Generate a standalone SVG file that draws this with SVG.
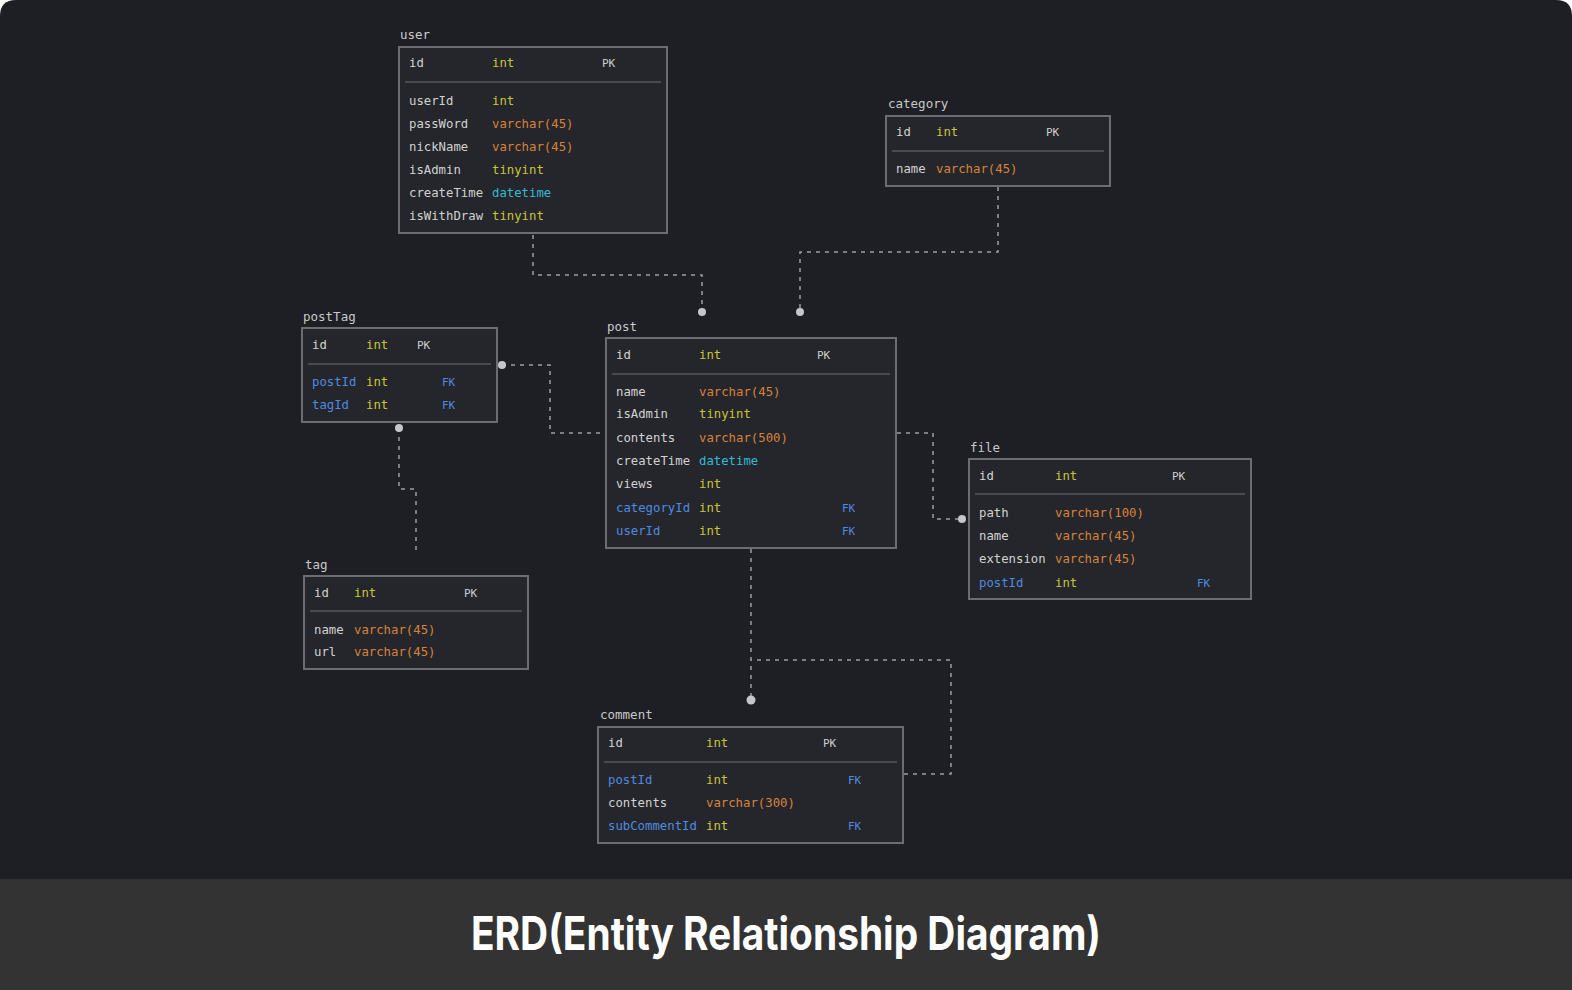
<svg xmlns="http://www.w3.org/2000/svg" width="1572" height="990" viewBox="0 0 1572 990">
<style>
.bx{fill:#25262b;stroke:#6a6d73;stroke-width:2}
.sep{stroke:#55585e;stroke-width:1.5}
text{font-family:"DejaVu Sans Mono","Liberation Mono",monospace;font-size:12.3px}
.lbl{fill:#c9c9c9;font-size:12.5px}
.n{fill:#d2d2d2}
.k{fill:#4f8be0}
.i{fill:#c9c43a}
.v{fill:#d9823a}
.d{fill:#35b9d6}
.pk{fill:#cfcfcf;font-size:11px}
.fk{fill:#4f8be0;font-size:11px}
.c{fill:none;stroke:#9b9ea3;stroke-width:1.5;stroke-dasharray:4 5}
.dot{fill:#c4c6c9}
</style>
<rect width="1572" height="990" fill="#ffffff"/>
<path d="M0 16 Q0 0 16 0 H1556 Q1572 0 1572 16 V990 H0 Z" fill="#1e1f24"/>
<rect x="0" y="879" width="1572" height="111" fill="#333333"/>

<g id="connectors">
<path class="c" d="M533 235 V275 H702 V312"/>
<circle class="dot" cx="702" cy="312" r="4"/>
<path class="c" d="M998 187 V252 H800 V312"/>
<circle class="dot" cx="800" cy="312" r="4"/>
<path class="c" d="M502 365 H550 V433 H605"/>
<circle class="dot" cx="502" cy="365" r="4"/>
<path class="c" d="M399 428 V489 H416 V555"/>
<circle class="dot" cx="399" cy="428" r="4"/>
<path class="c" d="M897 433 H933 V519 H962"/>
<circle class="dot" cx="962" cy="519" r="4"/>
<path class="c" d="M751 549 V700"/>
<circle class="dot" cx="751" cy="700" r="4.5"/>
<path class="c" d="M904 774 H951 V660 H751"/>
</g>

<g id="user">
<text class="lbl" x="400" y="39">user</text>
<rect class="bx" x="399" y="47" width="268" height="186"/>
<line class="sep" x1="405" y1="82" x2="661" y2="82"/>
<text class="n" x="409" y="67">id</text><text class="i" x="492" y="67">int</text><text class="pk" x="602" y="67">PK</text>
<text class="n" x="409" y="105">userId</text><text class="i" x="492" y="105">int</text>
<text class="n" x="409" y="128">passWord</text><text class="v" x="492" y="128">varchar(45)</text>
<text class="n" x="409" y="151">nickName</text><text class="v" x="492" y="151">varchar(45)</text>
<text class="n" x="409" y="174">isAdmin</text><text class="i" x="492" y="174">tinyint</text>
<text class="n" x="409" y="197">createTime</text><text class="d" x="492" y="197">datetime</text>
<text class="n" x="409" y="220">isWithDraw</text><text class="i" x="492" y="220">tinyint</text>
</g>

<g id="category">
<text class="lbl" x="888" y="108">category</text>
<rect class="bx" x="886" y="116" width="224" height="70"/>
<line class="sep" x1="892" y1="151" x2="1104" y2="151"/>
<text class="n" x="896" y="136">id</text><text class="i" x="936" y="136">int</text><text class="pk" x="1046" y="136">PK</text>
<text class="n" x="896" y="173">name</text><text class="v" x="936" y="173">varchar(45)</text>
</g>

<g id="postTag">
<text class="lbl" x="303" y="321">postTag</text>
<rect class="bx" x="302" y="328" width="195" height="94"/>
<line class="sep" x1="308" y1="364" x2="491" y2="364"/>
<text class="n" x="312" y="349">id</text><text class="i" x="366" y="349">int</text><text class="pk" x="417" y="349">PK</text>
<text class="k" x="312" y="386">postId</text><text class="i" x="366" y="386">int</text><text class="fk" x="442" y="386">FK</text>
<text class="k" x="312" y="409">tagId</text><text class="i" x="366" y="409">int</text><text class="fk" x="442" y="409">FK</text>
</g>

<g id="post">
<text class="lbl" x="607" y="331">post</text>
<rect class="bx" x="606" y="338" width="290" height="210"/>
<line class="sep" x1="612" y1="374" x2="890" y2="374"/>
<text class="n" x="616" y="359">id</text><text class="i" x="699" y="359">int</text><text class="pk" x="817" y="359">PK</text>
<text class="n" x="616" y="396">name</text><text class="v" x="699" y="396">varchar(45)</text>
<text class="n" x="616" y="418">isAdmin</text><text class="i" x="699" y="418">tinyint</text>
<text class="n" x="616" y="442">contents</text><text class="v" x="699" y="442">varchar(500)</text>
<text class="n" x="616" y="465">createTime</text><text class="d" x="699" y="465">datetime</text>
<text class="n" x="616" y="488">views</text><text class="i" x="699" y="488">int</text>
<text class="k" x="616" y="512">categoryId</text><text class="i" x="699" y="512">int</text><text class="fk" x="842" y="512">FK</text>
<text class="k" x="616" y="535">userId</text><text class="i" x="699" y="535">int</text><text class="fk" x="842" y="535">FK</text>
</g>

<g id="file">
<text class="lbl" x="970" y="452">file</text>
<rect class="bx" x="969" y="459" width="282" height="140"/>
<line class="sep" x1="975" y1="494" x2="1245" y2="494"/>
<text class="n" x="979" y="480">id</text><text class="i" x="1055" y="480">int</text><text class="pk" x="1172" y="480">PK</text>
<text class="n" x="979" y="517">path</text><text class="v" x="1055" y="517">varchar(100)</text>
<text class="n" x="979" y="540">name</text><text class="v" x="1055" y="540">varchar(45)</text>
<text class="n" x="979" y="563">extension</text><text class="v" x="1055" y="563">varchar(45)</text>
<text class="k" x="979" y="587">postId</text><text class="i" x="1055" y="587">int</text><text class="fk" x="1197" y="587">FK</text>
</g>

<g id="tag">
<text class="lbl" x="305" y="569">tag</text>
<rect class="bx" x="304" y="576" width="224" height="93"/>
<line class="sep" x1="310" y1="611" x2="522" y2="611"/>
<text class="n" x="314" y="597">id</text><text class="i" x="354" y="597">int</text><text class="pk" x="464" y="597">PK</text>
<text class="n" x="314" y="634">name</text><text class="v" x="354" y="634">varchar(45)</text>
<text class="n" x="314" y="656">url</text><text class="v" x="354" y="656">varchar(45)</text>
</g>

<g id="comment">
<text class="lbl" x="600" y="719">comment</text>
<rect class="bx" x="598" y="727" width="305" height="116"/>
<line class="sep" x1="604" y1="762" x2="897" y2="762"/>
<text class="n" x="608" y="747">id</text><text class="i" x="706" y="747">int</text><text class="pk" x="823" y="747">PK</text>
<text class="k" x="608" y="784">postId</text><text class="i" x="706" y="784">int</text><text class="fk" x="848" y="784">FK</text>
<text class="n" x="608" y="807">contents</text><text class="v" x="706" y="807">varchar(300)</text>
<text class="k" x="608" y="830">subCommentId</text><text class="i" x="706" y="830">int</text><text class="fk" x="848" y="830">FK</text>
</g>

<text x="786" y="950" text-anchor="middle" textLength="630" lengthAdjust="spacingAndGlyphs" style="font-family:Inter,'Noto Sans',sans-serif;font-size:46px;font-weight:700;fill:#ffffff">ERD(Entity Relationship Diagram)</text>
</svg>
